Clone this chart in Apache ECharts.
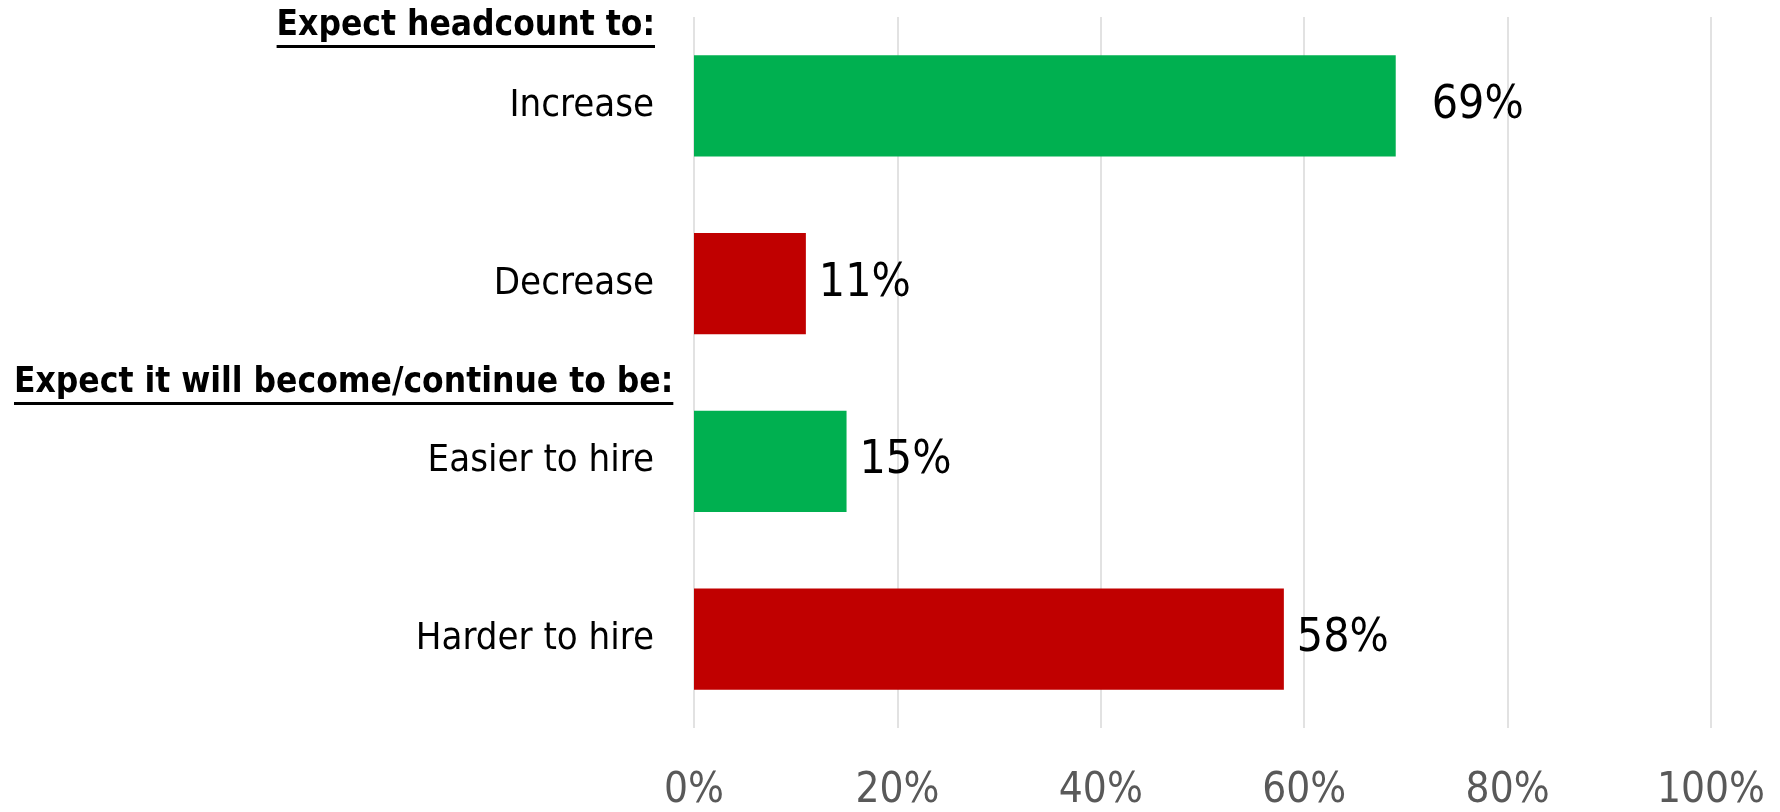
<!DOCTYPE html>
<html>
<head>
<meta charset="utf-8">
<script src="https://cdn.jsdelivr.net/npm/echarts@6/dist/echarts.min.js"></script>
<style>
  html, body { margin: 0; padding: 0; background: #fff; }
  #chart { width: 1780px; height: 812px; }
</style>
</head>
<body>
<div id="chart"></div>
<script>
// categories top to bottom, values in percent
const categories = ['Increase', 'Decrease', 'Easier to hire', 'Harder to hire'];
const values = [69, 11, 15, 58];
const barColors = ['#00B050', '#C00000', '#00B050', '#C00000'];
const tickLabels = ['0%', '20%', '40%', '60%', '80%', '100%'];
const headings = ['Expect headcount to:', 'Expect it will become/continue to be:'];

const FONT = '"Liberation Sans Narrow", "DejaVu Sans Condensed", "Noto Sans", sans-serif';
const HEAD_SIZE = 35;

// measure heading width so the underline matches the text
function textWidth(str) {
    const ctx = document.createElement('canvas').getContext('2d');
    ctx.font = 'bold ' + HEAD_SIZE + 'px ' + FONT;
    return ctx.measureText(str).width;
}

function heading(str, x, y, alignRight) {
    const w = textWidth(str);
    const left = alignRight ? x - w : x;
    return {
        type: 'group',
        children: [
            {
                type: 'text',
                x: left,
                y: y,
                style: {
                    text: str,
                    fontFamily: FONT,
                    fontWeight: 'bold',
                    fontSize: HEAD_SIZE,
                    fill: '#000',
                    verticalAlign: 'middle'
                }
            },
            {
                type: 'rect',
                shape: { x: left, y: y + 19, width: w, height: 3 },
                style: { fill: '#000' }
            }
        ]
    };
}

var myChart = echarts.init(document.getElementById('chart'));

myChart.setOption({
    animation: false,
    grid: {
        left: 694,
        right: 69,
        top: 17,
        bottom: 80
    },
    xAxis: {
        type: 'value',
        min: 0,
        max: 100,
        interval: 20,
        axisLine: { show: false },
        axisTick: { show: false },
        splitLine: { lineStyle: { color: '#d9d9d9', width: 1.5 } },
        axisLabel: {
            margin: 42,
            color: '#595959',
            fontFamily: FONT,
            fontSize: 42,
            formatter: v => tickLabels[v / 20]
        }
    },
    yAxis: {
        type: 'category',
        inverse: true,
        data: categories,
        axisLine: { show: false },
        axisTick: { show: false },
        axisLabel: {
            margin: 40,
            color: '#000',
            fontFamily: FONT,
            fontSize: 38
        }
    },
    series: [{
        type: 'bar',
        barWidth: '57%',
        data: values.map((v, i) => ({
            value: v,
            itemStyle: { color: barColors[i] },
            label: { distance: i === 0 ? 36 : 13 }
        })),
        label: {
            show: true,
            position: 'right',
            color: '#000',
            fontFamily: FONT,
            fontSize: 46,
            formatter: p => p.value + '%'
        }
    }],
    graphic: [
        heading(headings[0], 655, 26, true),
        heading(headings[1], 14, 383, false)
    ]
});
</script>
</body>
</html>
